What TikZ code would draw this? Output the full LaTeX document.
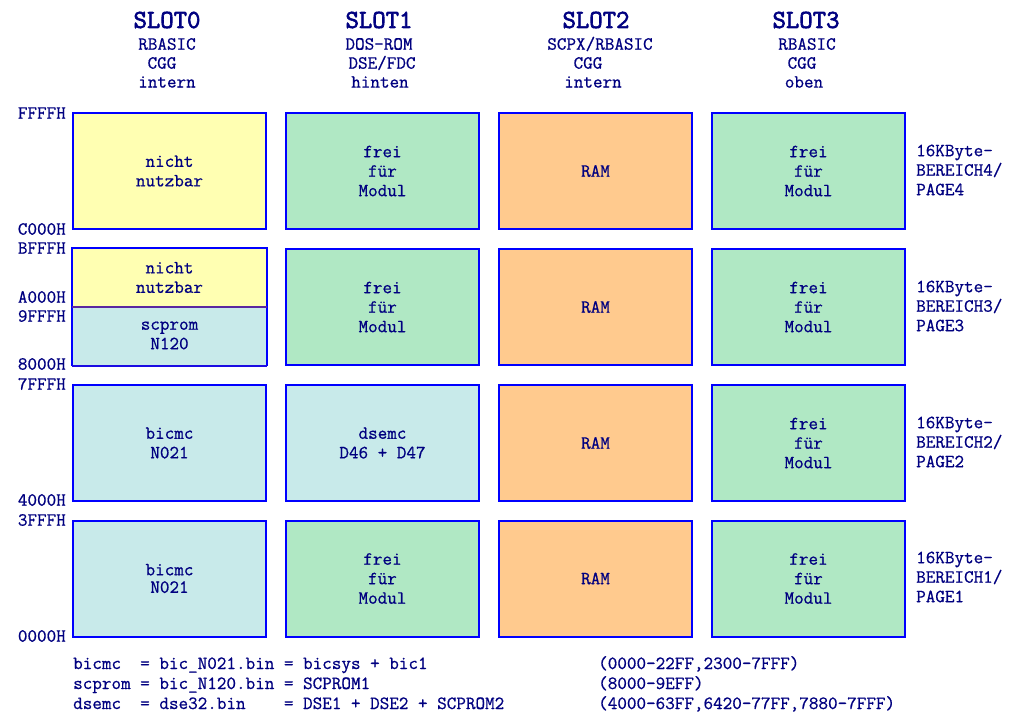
\documentclass[tikz,border=0pt]{standalone}
\usepackage{fontspec}
\newfontfamily\cour{Latin Modern Mono}[FakeBold=0.7]
\newfontfamily\courb{Latin Modern Mono}[FakeBold=2.4]
\definecolor{navy}{RGB}{0,0,128}
\definecolor{bblue}{RGB}{0,0,255}
\definecolor{cyel}{RGB}{255,255,178}
\definecolor{cgrn}{RGB}{176,232,196}
\definecolor{corg}{RGB}{255,202,142}
\definecolor{cblu}{RGB}{200,234,234}
\definecolor{cdiv}{RGB}{90,40,160}
\newcommand{\mtxt}{\cour\fontsize{18.6}{19.5}\selectfont}
\newcommand{\htxt}{\courb\fontsize{26}{28}\selectfont}
\tikzset{
  membox/.style={draw=bblue, line width=2pt, inner sep=0pt, minimum width=193pt,
    minimum height=116pt, text=navy, align=center, font=\mtxt},
  yel/.style={membox, fill=cyel},
  grn/.style={membox, fill=cgrn},
  org/.style={membox, fill=corg},
  blu/.style={membox, fill=cblu},
  addr/.style={anchor=east, inner sep=0pt, text=navy, font=\mtxt},
  pagelbl/.style={anchor=west, inner sep=0pt, text=navy, font=\mtxt, align=left},
  hdr/.style={inner sep=0pt, text=navy, font=\htxt},
  sub/.style={inner sep=0pt, text=navy, font=\mtxt},
  foot/.style={anchor=base west, inner sep=0pt, text=navy, font=\mtxt},
}
\begin{document}
\begin{tikzpicture}[x=1pt,y=-1pt]
\useasboundingbox (0,0) rectangle (1020,724);
\fill[white] (0,0) rectangle (1020,724);
% headers
\node[hdr] (h0) at (167,20) {SLOT0};
\node[sub] (h0a) at (167,44) {RBASIC};
\node[sub] (h0b) at (162,63) {CGG};
\node[sub] (h0c) at (167,82) {intern};
\node[hdr] (h1) at (379,20) {SLOT1};
\node[sub] (h1a) at (379,44) {DOS-ROM};
\node[sub] (h1b) at (382,63) {DSE/FDC};
\node[sub] (h1c) at (380,82) {hinten};
\node[hdr] (h2) at (596,20) {SLOT2};
\node[sub] (h2a) at (600,44) {SCPX/RBASIC};
\node[sub] (h2b) at (588,63) {CGG};
\node[sub] (h2c) at (593,82) {intern};
\node[hdr] (h3) at (806,20) {SLOT3};
\node[sub] (h3a) at (807,44) {RBASIC};
\node[sub] (h3b) at (802,63) {CGG};
\node[sub] (h3c) at (804,82) {oben};
% address labels
\node[addr] (aFFFF) at (66,113) {FFFFH};
\node[addr] (aC000) at (66,229) {C000H};
\node[addr] (aBFFF) at (66,248) {BFFFH};
\node[addr] (aA000) at (66,297) {A000H};
\node[addr] (a9FFF) at (66,316) {9FFFH};
\node[addr] (a8000) at (66,364) {8000H};
\node[addr] (a7FFF) at (66,384) {7FFFH};
\node[addr] (a4000) at (66,500) {4000H};
\node[addr] (a3FFF) at (66,520) {3FFFH};
\node[addr] (a0000) at (66,636) {0000H};
% row 4 (C000-FFFF)
\node[yel] (s0r4) at (169.5,171) {nicht\\nutzbar};
\node[grn] (s1r4) at (382.5,171) {frei\\für\\Modul};
\node[org] (s2r4) at (595.5,171) {RAM};
\node[grn] (s3r4) at (808.5,171) {frei\\für\\Modul};
% row 3 (8000-BFFF)
\node[membox, fill=cblu, draw=none, minimum height=59pt] (s0r3b) at (169.5,335.5) {scprom\\N120};
\node[membox, fill=cyel, draw=none, minimum height=57pt] (s0r3a) at (169.5,277.5) {nicht\\nutzbar};
\draw[draw=bblue, line width=2pt] (s0r3b.south west) -- (s0r3a.north west) -- (s0r3a.north east) -- (s0r3b.south east);
\draw[draw=bblue!70!cdiv, line width=1.4pt] (s0r3b.south west) -- (s0r3b.south east);
\draw[draw=cdiv, line width=1.2pt] (s0r3a.south west) -- (s0r3a.south east);
\node[grn] (s1r3) at (382.5,307) {frei\\für\\Modul};
\node[org] (s2r3) at (595.5,307) {RAM};
\node[grn] (s3r3) at (808.5,307) {frei\\für\\Modul};
% row 2 (4000-7FFF)
\node[blu] (s0r2) at (169.5,443) {bicmc\\N021};
\node[blu] (s1r2) at (382.5,443) {dsemc\\D46 + D47};
\node[org] (s2r2) at (595.5,443) {RAM};
\node[grn] (s3r2) at (808.5,443) {frei\\für\\Modul};
% row 1 (0000-3FFF)
\node[blu, font=\cour\fontsize{18.6}{17.5}\selectfont] (s0r1) at (169.5,578.5) {bicmc\\N021};
\node[grn] (s1r1) at (382.5,578.5) {frei\\für\\Modul};
\node[org] (s2r1) at (595.5,578.5) {RAM};
\node[grn] (s3r1) at (808.5,578.5) {frei\\für\\Modul};
% page labels
\node[pagelbl] (p4) at (916,170) {16KByte-\\BEREICH4/\\PAGE4};
\node[pagelbl] (p3) at (916,306) {16KByte-\\BEREICH3/\\PAGE3};
\node[pagelbl] (p2) at (916,442) {16KByte-\\BEREICH2/\\PAGE2};
\node[pagelbl] (p1) at (916,577) {16KByte-\\BEREICH1/\\PAGE1};
% footnotes
\node[foot] (f1) at (73,669) {bicmc~~= bic\_N021.bin = bicsys + bic1};
\node[foot] (f1r) at (598,669) {(0000-22FF,2300-7FFF)};
\node[foot] (f2) at (73,689) {scprom = bic\_N120.bin = SCPROM1};
\node[foot] (f2r) at (598,689) {(8000-9EFF)};
\node[foot] (f3) at (73,709) {dsemc~~= dse32.bin~~~~= DSE1 + DSE2 + SCPROM2};
\node[foot] (f3r) at (598,709) {(4000-63FF,6420-77FF,7880-7FFF)};
\end{tikzpicture}
\end{document}
